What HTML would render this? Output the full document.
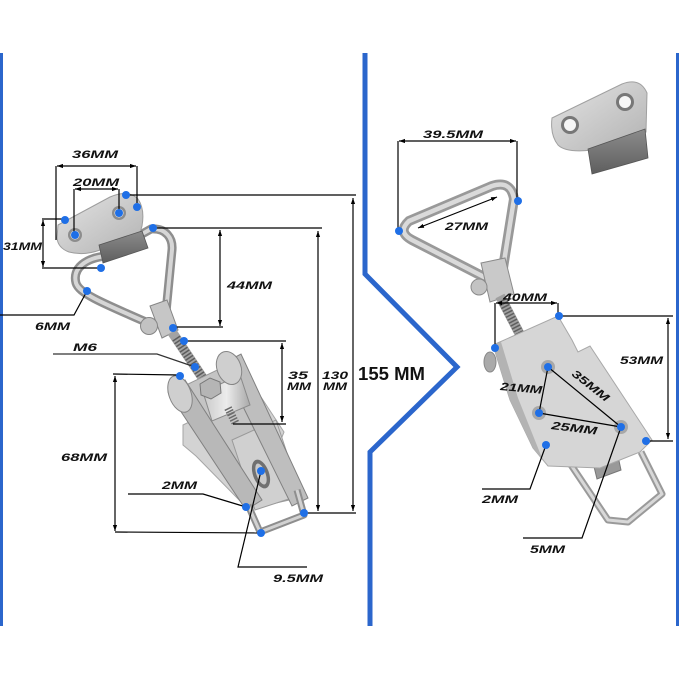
<!DOCTYPE html>
<html><head><meta charset="utf-8"><style>
html,body{margin:0;padding:0;background:#fff;}
svg{display:block;}
text{font-family:"Liberation Sans",sans-serif;font-weight:bold;fill:#111;}
</style></head><body>
<svg width="679" height="679" viewBox="0 0 679 679" xmlns="http://www.w3.org/2000/svg">
<defs>
<marker id="a" viewBox="0 0 10 10" refX="10" refY="5" markerWidth="6" markerHeight="6" orient="auto-start-reverse" markerUnits="userSpaceOnUse"><path d="M0,1.5 L10,5 L0,8.5 Z" fill="#000"/></marker>
<linearGradient id="m1" x1="0" y1="0" x2="1" y2="1"><stop offset="0" stop-color="#e4e4e4"/><stop offset="1" stop-color="#b2b2b2"/></linearGradient>
<linearGradient id="m2" x1="0" y1="0" x2="1" y2="0"><stop offset="0" stop-color="#c9c9c9"/><stop offset=".5" stop-color="#ececec"/><stop offset="1" stop-color="#a9a9a9"/></linearGradient>
<linearGradient id="dk" x1="0" y1="0" x2="0" y2="1"><stop offset="0" stop-color="#8c8c8c"/><stop offset="1" stop-color="#5e5e5e"/></linearGradient>
</defs>
<rect width="679" height="679" fill="#fff"/>

<!-- blue frame lines -->
<rect x="0" y="53" width="3" height="573" fill="#2b66cc"/>
<rect x="676" y="53" width="3" height="573" fill="#2b66cc"/>
<path d="M365,53 L365,274 L457,367 L370,452 L370,626" fill="none" stroke="#2b66cc" stroke-width="5"/>

<!-- ===== LEFT PRODUCT ===== -->
<path d="M106,256 C86,258 72,268 76,283 C79,293 100,302 146,322 M142,234 L151,229 C166,228 173,238 172,250 L166,312" fill="none" stroke="#8e8e8e" stroke-width="9" stroke-linecap="round"/>
<path d="M106,256 C86,258 72,268 76,283 C79,293 100,302 146,322 M142,234 L151,229 C166,228 173,238 172,250 L166,312" fill="none" stroke="#d6d6d6" stroke-width="4" stroke-linecap="round"/>
<path d="M58,225 L110,197 Q128,189 138,199 Q145,209 142,226 L140,233 L100,250 Q84,256 69,252 Q58,248 57,238 Z" fill="url(#m1)" stroke="#9d9d9d" stroke-width="1"/>
<circle cx="75" cy="235" r="7" fill="#8d8d8d"/><circle cx="75" cy="235" r="4.5" fill="#f0f0f0"/>
<circle cx="119" cy="213" r="7" fill="#8d8d8d"/><circle cx="119" cy="213" r="4.5" fill="#f0f0f0"/>
<polygon points="99,245 142,231 148,248 103,263" fill="url(#dk)" stroke="#555" stroke-width="0.8"/>
<polygon points="150,306 167,300 178,330 162,338" fill="#c6c6c6" stroke="#858585"/>
<circle cx="149" cy="326" r="8.5" fill="#c2c2c2" stroke="#858585"/>
<line x1="172" y1="332" x2="212" y2="392" stroke="#a3a3a3" stroke-width="10"/>
<line x1="176" y1="338" x2="212" y2="392" stroke="#5c5c5c" stroke-width="9" stroke-dasharray="1.5,1.8"/>
<!-- base plate -->
<polygon points="183,425 250,393 261,397 284,432 280,442 262,452 278,500 245,506 196,456 183,445" fill="#d3d3d3" stroke="#a5a5a5"/>
<!-- lever plate between strips -->
<polygon points="184,386 238,360 298,498 254,508" fill="#c4c4c4" stroke="#999"/>
<polygon points="232,440 276,420 301,495 255,510" fill="#d0d0d0" stroke="#9a9a9a"/>
<text x="0" y="0" transform="translate(216,450) rotate(-30)" font-size="10" style="fill:#8a8a8a;font-weight:normal">02</text>
<ellipse cx="261" cy="474" rx="8" ry="15" transform="rotate(-20 261 474)" fill="#707070"/>
<ellipse cx="261" cy="474" rx="4.5" ry="11" transform="rotate(-20 261 474)" fill="#c9c9c9"/>
<ellipse cx="240" cy="478" rx="5" ry="8" transform="rotate(-20 240 478)" fill="#6a6a6a"/>
<!-- lever strips -->
<polygon points="168,392 185,380 262,500 246,510" fill="#b8b8b8" stroke="#808080"/>
<polygon points="222,364 241,354 308,498 292,506" fill="#bebebe" stroke="#808080"/>
<path d="M248,505 L260,532 L304,515 L297,490" fill="none" stroke="#8e8e8e" stroke-width="7" stroke-linejoin="round"/>
<path d="M248,505 L260,532 L304,515 L297,490" fill="none" stroke="#d2d2d2" stroke-width="3" stroke-linejoin="round"/>
<polygon points="203,392 240,375 250,405 212,421" fill="url(#m2)" stroke="#8a8a8a"/>
<polygon points="200,384 210,378 220,382 221,393 211,399 201,395" fill="#b5b5b5" stroke="#777"/>
<line x1="228" y1="408" x2="236" y2="424" stroke="#6a6a6a" stroke-width="8" stroke-dasharray="1.5,1.5"/>
<ellipse cx="180" cy="394" rx="11" ry="19" transform="rotate(-20 180 394)" fill="#cfcfcf" stroke="#858585"/>
<ellipse cx="229" cy="368" rx="12" ry="17" transform="rotate(-20 229 368)" fill="#cfcfcf" stroke="#858585"/>

<!-- ===== RIGHT PRODUCT ===== -->
<path d="M552,118 L622,84 Q640,77 647,93 L646,132 L592,150 Q566,153 558,145 Q550,135 552,118 Z" fill="url(#m1)" stroke="#a0a0a0"/>
<polygon points="588,149 645,129 648,158 592,174" fill="url(#dk)" stroke="#555" stroke-width="0.8"/>
<circle cx="570" cy="125" r="9" fill="#777"/><circle cx="570" cy="125" r="6" fill="#f6f6f6"/>
<circle cx="625" cy="102" r="9" fill="#777"/><circle cx="625" cy="102" r="6" fill="#f6f6f6"/>
<path d="M484,277 L412,240 Q397,232 409,221 L492,186 Q511,180 514,199 L503,268" fill="none" stroke="#999" stroke-width="10" stroke-linejoin="round" stroke-linecap="round"/>
<path d="M484,277 L412,240 Q397,232 409,221 L492,186 Q511,180 514,199 L503,268" fill="none" stroke="#dadada" stroke-width="4.5" stroke-linejoin="round" stroke-linecap="round"/>
<polygon points="481,263 505,258 514,294 490,302" fill="#c9c9c9" stroke="#8a8a8a"/>
<circle cx="479" cy="287" r="8" fill="#c3c3c3" stroke="#8a8a8a"/>
<line x1="500" y1="296" x2="528" y2="350" stroke="#a0a0a0" stroke-width="10"/>
<line x1="502" y1="300" x2="528" y2="350" stroke="#5e5e5e" stroke-width="9" stroke-dasharray="1.5,1.8"/>
<path d="M561,450 L608,520 L628,522 L662,494 L641,452" fill="none" stroke="#9a9a9a" stroke-width="7" stroke-linejoin="round"/>
<path d="M561,450 L608,520 L628,522 L662,494 L641,452" fill="none" stroke="#d8d8d8" stroke-width="3" stroke-linejoin="round"/>
<polygon points="588,442 613,433 621,470 597,479" fill="#999" stroke="#777"/>
<polygon points="493,345 558,316 572,340 578,352 590,346 652,440 640,452 600,468 548,466 533,448 510,400" fill="#d6d6d6" stroke="#a8a8a8"/>
<polygon points="493,345 501,342 518,398 542,458 548,466 533,448 510,400" fill="#b3b3b3"/>
<ellipse cx="490" cy="362" rx="6" ry="10" fill="#aaa" stroke="#888"/>
<circle cx="548" cy="367" r="7" fill="#a8a8a8"/>
<circle cx="539" cy="413" r="7" fill="#a8a8a8"/>
<circle cx="621" cy="427" r="7" fill="#a8a8a8"/>

<!-- ===== DIMENSION LINES ===== -->
<g stroke="#000" stroke-width="1.2" fill="none">
<line x1="57" y1="166" x2="136" y2="166" marker-start="url(#a)" marker-end="url(#a)"/>
<line x1="56" y1="166" x2="56" y2="240"/><line x1="137" y1="166" x2="137" y2="203"/>
<line x1="75" y1="189" x2="118" y2="189" marker-start="url(#a)" marker-end="url(#a)"/>
<line x1="74" y1="189" x2="74" y2="234"/><line x1="119" y1="189" x2="119" y2="212"/>
<line x1="126" y1="195" x2="356" y2="195"/>
<line x1="353" y1="198" x2="353" y2="511" marker-start="url(#a)" marker-end="url(#a)"/>
<line x1="153" y1="228" x2="322" y2="228"/>
<line x1="318" y1="231" x2="318" y2="511" marker-start="url(#a)" marker-end="url(#a)"/>
<line x1="42" y1="219" x2="65" y2="219"/><line x1="42" y1="268" x2="101" y2="268"/>
<line x1="43" y1="220" x2="43" y2="267" marker-start="url(#a)" marker-end="url(#a)"/>
<line x1="220" y1="230" x2="220" y2="326" marker-start="url(#a)" marker-end="url(#a)"/>
<line x1="173" y1="327" x2="223" y2="327"/>
<polyline points="87,291 74,315 0,315"/>
<line x1="184" y1="341" x2="286" y2="341"/>
<line x1="282" y1="343" x2="282" y2="422" marker-start="url(#a)" marker-end="url(#a)"/>
<line x1="233" y1="424" x2="286" y2="424"/>
<polyline points="53,354 157,354 195,367" stroke="#333"/>
<line x1="113" y1="374" x2="180" y2="375"/>
<line x1="115" y1="376" x2="115" y2="531" marker-start="url(#a)" marker-end="url(#a)"/>
<line x1="115" y1="532" x2="261" y2="533"/>
<line x1="304" y1="513" x2="356" y2="513"/>
<polyline points="128,494 203,494 246,507"/>
<polyline points="261,471 238,567 307,567"/>
<line x1="399" y1="141" x2="516" y2="141" marker-start="url(#a)" marker-end="url(#a)"/>
<line x1="398" y1="141" x2="398" y2="230"/><line x1="517" y1="141" x2="517" y2="200"/>
<line x1="418" y1="228" x2="497" y2="197" marker-start="url(#a)" marker-end="url(#a)"/>
<line x1="496" y1="303" x2="557" y2="303" marker-start="url(#a)" marker-end="url(#a)"/>
<line x1="495" y1="303" x2="495" y2="348"/><line x1="558" y1="303" x2="558" y2="316"/>
<line x1="559" y1="316" x2="673" y2="316"/>
<line x1="668" y1="318" x2="668" y2="439" marker-start="url(#a)" marker-end="url(#a)"/>
<line x1="646" y1="441" x2="673" y2="441"/>
<line x1="548" y1="367" x2="539" y2="413"/>
<line x1="548" y1="367" x2="621" y2="427"/>
<line x1="539" y1="413" x2="621" y2="427"/>
<polyline points="546,445 530,489 482,489"/>
<polyline points="621,427 582,538 523,538"/>
</g>

<!-- ===== DOTS ===== -->
<g fill="#1f6fe6">
<circle cx="126" cy="195" r="4"/><circle cx="137" cy="207" r="4"/><circle cx="65" cy="220" r="4"/>
<circle cx="75" cy="235" r="4"/><circle cx="119" cy="213" r="4"/><circle cx="153" cy="228" r="4"/>
<circle cx="101" cy="268" r="4"/><circle cx="87" cy="291" r="4"/><circle cx="173" cy="328" r="4"/>
<circle cx="184" cy="341" r="4"/><circle cx="195" cy="367" r="4"/><circle cx="180" cy="376" r="4"/>
<circle cx="261" cy="471" r="4"/><circle cx="246" cy="507" r="4"/><circle cx="304" cy="513" r="4"/>
<circle cx="261" cy="533" r="4"/>
<circle cx="518" cy="201" r="4"/><circle cx="399" cy="231" r="4"/><circle cx="559" cy="316" r="4"/>
<circle cx="495" cy="348" r="4"/><circle cx="548" cy="367" r="4"/><circle cx="539" cy="413" r="4"/>
<circle cx="621" cy="427" r="4"/><circle cx="646" cy="441" r="4"/><circle cx="546" cy="445" r="4"/>
</g>

<!-- ===== TEXT ===== -->
<g font-size="11" font-style="italic">
<text x="72" y="158" textLength="46" lengthAdjust="spacingAndGlyphs">36MM</text>
<text x="73" y="186" textLength="46" lengthAdjust="spacingAndGlyphs">20MM</text>
<text x="3" y="250" textLength="39" lengthAdjust="spacingAndGlyphs">31MM</text>
<text x="227" y="289" textLength="45" lengthAdjust="spacingAndGlyphs">44MM</text>
<text x="35" y="330" textLength="35" lengthAdjust="spacingAndGlyphs">6MM</text>
<text x="73" y="351" textLength="24" lengthAdjust="spacingAndGlyphs">M6</text>
<text x="288" y="379" textLength="20" lengthAdjust="spacingAndGlyphs">35</text>
<text x="287" y="390" textLength="24" lengthAdjust="spacingAndGlyphs">MM</text>
<text x="322" y="379" textLength="26" lengthAdjust="spacingAndGlyphs">130</text>
<text x="323" y="390" textLength="24" lengthAdjust="spacingAndGlyphs">MM</text>
<text x="61" y="461" textLength="46" lengthAdjust="spacingAndGlyphs">68MM</text>
<text x="162" y="489" textLength="35" lengthAdjust="spacingAndGlyphs">2MM</text>
<text x="273" y="582" textLength="50" lengthAdjust="spacingAndGlyphs">9.5MM</text>
<text x="423" y="138" textLength="60" lengthAdjust="spacingAndGlyphs">39.5MM</text>
<text x="445" y="230" textLength="43" lengthAdjust="spacingAndGlyphs">27MM</text>
<text x="503" y="301" textLength="44" lengthAdjust="spacingAndGlyphs">40MM</text>
<text x="620" y="364" textLength="43" lengthAdjust="spacingAndGlyphs">53MM</text>
<text x="0" y="0" transform="translate(500,390) rotate(5)" textLength="42" lengthAdjust="spacingAndGlyphs">21MM</text>
<text x="0" y="0" transform="translate(571,375) rotate(38)" textLength="44" lengthAdjust="spacingAndGlyphs">35MM</text>
<text x="0" y="0" transform="translate(551,429) rotate(7)" textLength="46" lengthAdjust="spacingAndGlyphs">25MM</text>
<text x="482" y="503" textLength="36" lengthAdjust="spacingAndGlyphs">2MM</text>
<text x="530" y="553" textLength="35" lengthAdjust="spacingAndGlyphs">5MM</text>
</g>
<text x="358" y="380" font-size="18" textLength="67" lengthAdjust="spacingAndGlyphs">155 MM</text>
</svg>
</body></html>
